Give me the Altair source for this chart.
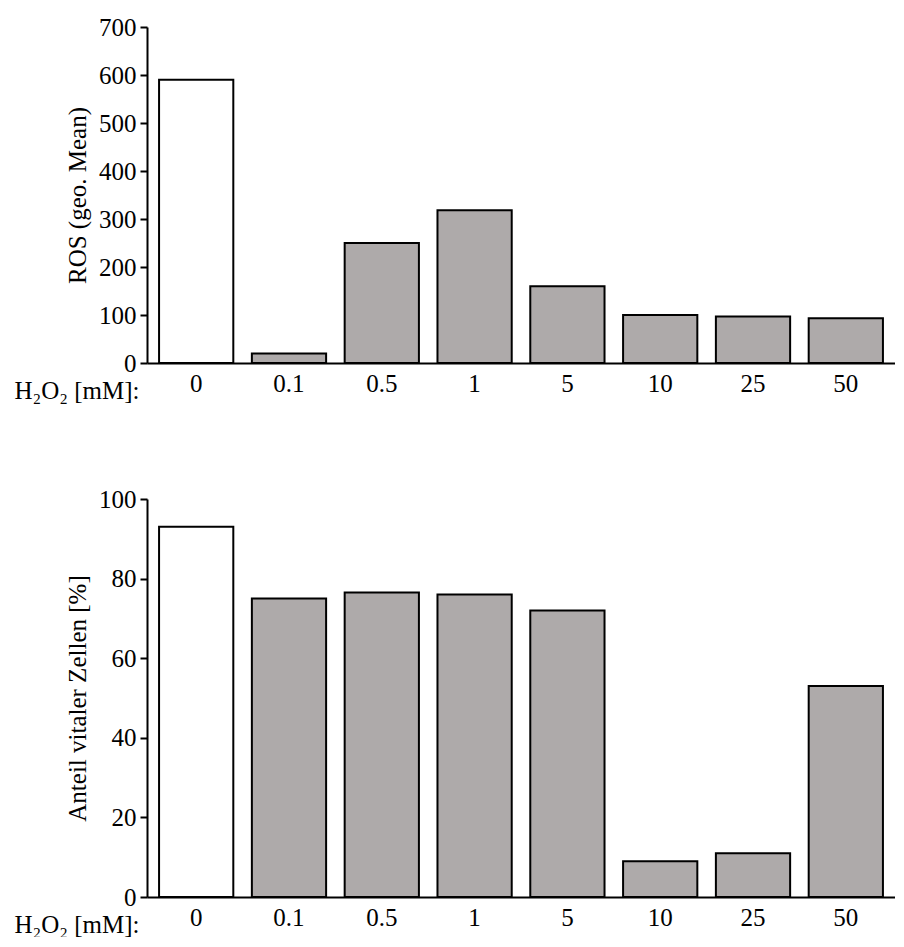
import altair as alt
import pandas as pd

conc = ["0", "0.1", "0.5", "1", "5", "10", "25", "50"]
ros = [590, 20, 250, 318, 160, 100, 97, 93]
vital = [93, 75, 76.5, 76, 72, 9, 11, 53]

df = pd.DataFrame({"conc": conc, "ros": ros, "vital": vital,
                   "ctrl": ["ctrl"] + ["treat"] * 7})

FONT = "Liberation Serif"
FS = 25


def panel(field, title, top, step):
    return alt.Chart(df).mark_bar(stroke="black", strokeWidth=2).encode(
        x=alt.X("conc:N", sort=conc,
                scale=alt.Scale(paddingInner=0.2, paddingOuter=0.13),
                axis=alt.Axis(title="H₂O₂ [mM]:", labelAngle=0, ticks=False,
                              labelPadding=8, titleAngle=0, titleX=-8, titleY=27,
                              titleAlign="right", titleBaseline="middle",
                              titleFontWeight="normal", labelFont=FONT, titleFont=FONT,
                              labelFontSize=FS, titleFontSize=FS)),
        y=alt.Y(field + ":Q", scale=alt.Scale(domain=[0, top]),
                axis=alt.Axis(title=title, values=list(range(0, top + 1, step)),
                              grid=False, tickSize=7, labelPadding=4,
                              titleFontWeight="normal", titlePadding=8,
                              labelFont=FONT, titleFont=FONT,
                              labelFontSize=FS, titleFontSize=FS)),
        color=alt.Color("ctrl:N", scale=alt.Scale(domain=["ctrl", "treat"],
                                                  range=["white", "#aeaaaa"]),
                        legend=None),
    )


top = panel("ros", "ROS (geo. Mean)", 700, 100).properties(width=748, height=336)
bottom = panel("vital", "Anteil vitaler Zellen [%]", 100, 20).properties(width=748, height=398)

chart = alt.vconcat(top, bottom, spacing=84).configure_view(stroke=None).configure_axis(
    domainColor="black", domainWidth=2, tickColor="black", tickWidth=2,
    labelColor="black", titleColor="black",
).properties(padding={"left": 5, "top": 7, "right": 0, "bottom": 0})

chart.save("out.html", embed_options={"renderer": "svg", "actions": False})
